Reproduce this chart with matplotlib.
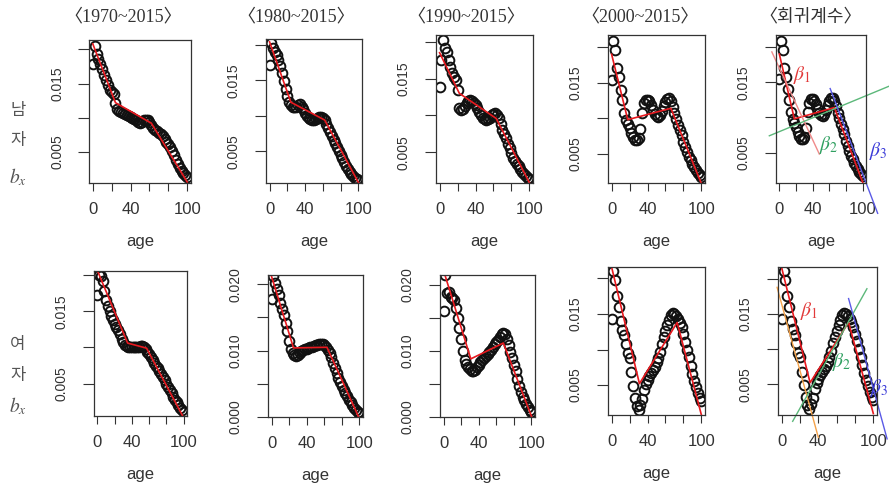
import numpy as np
import matplotlib.pyplot as plt

plt.rcParams['font.family'] = ['Liberation Sans', 'DejaVu Sans']
plt.rcParams['mathtext.fontset'] = 'stix'

# ages 0..100, every second year
age = np.arange(0, 101, 2)

titles = ['〈1970~2015〉', '〈1980~2015〉', '〈1990~2015〉', '〈2000~2015〉', '〈회귀계수〉']

# b_x estimates, male
male_1970 = [
    0.0178, 0.0205, 0.0193, 0.0186, 0.0179, 0.0171, 0.0163, 0.0155, 0.0148, 0.0141,
    0.0137, 0.0134, 0.0121, 0.0113, 0.0110, 0.0108, 0.0107, 0.0106, 0.0104, 0.0103,
    0.0101, 0.0100, 0.0098, 0.0096, 0.0094, 0.0093, 0.0094, 0.0096, 0.0097, 0.0097,
    0.0094, 0.0090, 0.0085, 0.0082, 0.0080, 0.0078, 0.0076, 0.0073, 0.0069, 0.0065,
    0.0061, 0.0057, 0.0051, 0.0045, 0.0038, 0.0032, 0.0027, 0.0022, 0.0019, 0.0016,
    0.0014]
male_1980 = [
    0.0172, 0.0203, 0.0195, 0.0190, 0.0186, 0.0179, 0.0170, 0.0160, 0.0149, 0.0138,
    0.0128, 0.0120, 0.0115, 0.0113, 0.0112, 0.0113, 0.0115, 0.0116, 0.0113, 0.0109,
    0.0104, 0.0100, 0.0097, 0.0095, 0.0094, 0.0094, 0.0095, 0.0097, 0.0098, 0.0098,
    0.0097, 0.0094, 0.0089, 0.0083, 0.0077, 0.0071, 0.0066, 0.0061, 0.0056, 0.0050,
    0.0045, 0.0040, 0.0035, 0.0030, 0.0025, 0.0021, 0.0018, 0.0015, 0.0013, 0.0011,
    0.0010]
male_1990 = [
    0.0139, 0.0175, 0.0202, 0.0192, 0.0186, 0.0175, 0.0165, 0.0157, 0.0152, 0.0148,
    0.0135, 0.0110, 0.0107, 0.0109, 0.0113, 0.0117, 0.0120, 0.0121, 0.0120, 0.0117,
    0.0114, 0.0110, 0.0105, 0.0101, 0.0097, 0.0095, 0.0094, 0.0095, 0.0097, 0.0100,
    0.0102, 0.0103, 0.0101, 0.0096, 0.0089, 0.0081, 0.0075, 0.0069, 0.0062, 0.0056,
    0.0049, 0.0043, 0.0038, 0.0034, 0.0031, 0.0027, 0.0024, 0.0021, 0.0018, 0.0016,
    0.0014]
male_2000 = [
    0.0154, 0.0208, 0.0196, 0.0170, 0.0158, 0.0140, 0.0125, 0.0108, 0.0098, 0.0092,
    0.0086, 0.0079, 0.0073, 0.0070, 0.0069, 0.0072, 0.0085, 0.0108, 0.0121, 0.0126,
    0.0126, 0.0124, 0.0119, 0.0112, 0.0106, 0.0103, 0.0102, 0.0105, 0.0110, 0.0117,
    0.0123, 0.0127, 0.0128, 0.0124, 0.0116, 0.0107, 0.0099, 0.0091, 0.0084, 0.0076,
    0.0067, 0.0059, 0.0052, 0.0046, 0.0041, 0.0036, 0.0031, 0.0027, 0.0023, 0.0020,
    0.0017]

# b_x estimates, female
female_1970 = [
    0.0172, 0.0200, 0.0198, 0.0192, 0.0178, 0.0166, 0.0157, 0.0150, 0.0144, 0.0138,
    0.0133, 0.0128, 0.0124, 0.0118, 0.0112, 0.0107, 0.0104, 0.0102, 0.0101, 0.0100,
    0.0100, 0.0100, 0.0100, 0.0101, 0.0101, 0.0102, 0.0102, 0.0101, 0.0098, 0.0094,
    0.0091, 0.0087, 0.0083, 0.0079, 0.0075, 0.0071, 0.0067, 0.0063, 0.0059, 0.0055,
    0.0050, 0.0046, 0.0041, 0.0037, 0.0032, 0.0028, 0.0024, 0.0020, 0.0016, 0.0013,
    0.0011]
female_1980 = [
    0.0178, 0.0213, 0.0202, 0.0193, 0.0184, 0.0172, 0.0162, 0.0153, 0.0142, 0.0130,
    0.0114, 0.0102, 0.0096, 0.0093, 0.0092, 0.0094, 0.0097, 0.0099, 0.0101, 0.0102,
    0.0103, 0.0104, 0.0105, 0.0106, 0.0107, 0.0108, 0.0109, 0.0110, 0.0110, 0.0110,
    0.0108, 0.0105, 0.0101, 0.0096, 0.0090, 0.0082, 0.0074, 0.0066, 0.0059, 0.0052,
    0.0046, 0.0041, 0.0036, 0.0031, 0.0026, 0.0022, 0.0018, 0.0014, 0.0011, 0.0008,
    0.0006]
female_1990 = [
    0.0160, 0.0215, 0.0188, 0.0190, 0.0182, 0.0180, 0.0177, 0.0165, 0.0150, 0.0135,
    0.0118, 0.0100, 0.0087, 0.0081, 0.0076, 0.0072, 0.0069, 0.0069, 0.0071, 0.0075,
    0.0079, 0.0083, 0.0087, 0.0090, 0.0093, 0.0096, 0.0099, 0.0102, 0.0106, 0.0110,
    0.0114, 0.0117, 0.0121, 0.0125, 0.0127, 0.0125, 0.0118, 0.0109, 0.0099, 0.0089,
    0.0079, 0.0069, 0.0058, 0.0047, 0.0038, 0.0031, 0.0025, 0.0020, 0.0015, 0.0011,
    0.0008]
female_2000 = [
    0.0143, 0.0211, 0.0198, 0.0175, 0.0160, 0.0140, 0.0128, 0.0120, 0.0108, 0.0095,
    0.0088, 0.0068, 0.0049, 0.0032, 0.0020, 0.0015, 0.0022, 0.0030, 0.0043, 0.0052,
    0.0057, 0.0063, 0.0067, 0.0071, 0.0076, 0.0082, 0.0088, 0.0097, 0.0108, 0.0117,
    0.0126, 0.0134, 0.0142, 0.0149, 0.0152, 0.0150, 0.0147, 0.0143, 0.0138, 0.0132,
    0.0122, 0.0111, 0.0100, 0.0089, 0.0077, 0.0066, 0.0056, 0.0047, 0.0039, 0.0032,
    0.0027]

# piecewise linear fits (red lines)
fit_age_m = [[0, 24, 62, 100], [0, 24, 62, 100], [0, 22, 63, 100], [0, 18, 66, 100]]
fit_val_m = [[0.0208, 0.0122, 0.0092, 0.0006],
             [0.0204, 0.0119, 0.0094, 0.0006],
             [0.0185, 0.0130, 0.0096, 0.0009],
             [0.0190, 0.0098, 0.0114, 0.0008]]
fit_age_f = [[0, 35, 57, 100], [0, 25, 63, 100], [0, 31, 68, 100], [0, 31, 73, 100]]
fit_val_f = [[0.0206, 0.0106, 0.0099, 0.0003],
             [0.0212, 0.0104, 0.0105, -0.0003],
             [0.0222, 0.0088, 0.0112, 0.0001],
             [0.0216, 0.0052, 0.0138, 0.0008]]

# regression coefficient lines for 2000~2015 (beta1, beta2, beta3)
beta_age_m = [[-9, 48], [-12, 133], [61, 118]]
beta_val_m = [[0.0193, 0.0048], [0.0074, 0.0145], [0.0141, -0.0036]]
beta_age_f = [[-5, 40], [12, 93], [73, 115]]
beta_val_f = [[0.0188, -0.0026], [-0.0003, 0.0186], [0.0172, -0.0028]]

W, H = 889, 494
fig = plt.figure(figsize=(W / 100, H / 100), dpi=100)


def px_axes(l, t, r, b):
    return fig.add_axes([l / W, 1 - b / H, (r - l) / W, (b - t) / H])


def draw_panel(ax, vals, fx, fy, ylim, yticks, ylabels):
    ax.plot(age, vals, 'o', ms=7, mfc='none', mec='#111111', mew=1.4)
    ax.plot(fx, fy, color='#e8191f', lw=1.2)
    ax.set_xlim(-4, 104)
    ax.set_ylim(*ylim)
    ax.set_xticks(range(0, 101, 20))
    ax.set_xticklabels(['0', '', '40', '', '', '100'])
    ax.set_yticks(yticks)
    ax.set_yticklabels(ylabels, rotation=90, va='center')
    ax.tick_params(axis='x', length=6, width=0.8, pad=8, labelsize=12, colors='#333')
    ax.tick_params(axis='y', length=8, width=0.8, pad=10, labelsize=10, colors='#333')
    for s in ax.spines.values():
        s.set_linewidth(0.9)
        s.set_color('#333')
    ax.set_xlabel('age', fontsize=12, labelpad=12, color='#333')


male = [male_1970, male_1980, male_1990, male_2000, male_2000]
female = [female_1970, female_1980, female_1990, female_2000, female_2000]

top_boxes = [(89, 40, 191, 183), (266, 39, 362, 183), (436, 35, 533, 183),
             (608, 35, 705, 183), (776, 35, 866, 183)]
bot_boxes = [(94, 271, 187, 416), (268, 275, 363, 417), (440, 275, 535, 417),
             (608, 267, 705, 415), (778, 267, 877, 415)]
top_ylim = [(0.00046, 0.02136), (0.00054, 0.0208), (0.00086, 0.0209),
            (0.0009, 0.0217), (0.0007, 0.0217)]
bot_ylim = [(0.00053, 0.02055), (-0.00002, 0.0214), (0.0, 0.0215),
            (0.0008, 0.0216), (0.0006, 0.0217)]

t4 = [0.005, 0.010, 0.015, 0.020]
l4 = ['0.005', '', '0.015', '']
t5 = [0.0, 0.005, 0.010, 0.015, 0.020]
l5 = ['0.000', '', '0.010', '', '0.020']

top_axes = []
bot_axes = []
for i in range(5):
    k = min(i, 3)
    ax = px_axes(*top_boxes[i])
    draw_panel(ax, male[i], fit_age_m[k], fit_val_m[k], top_ylim[i], t4, l4)
    top_axes.append(ax)
    ax = px_axes(*bot_boxes[i])
    if i in (1, 2):
        draw_panel(ax, female[i], fit_age_f[k], fit_val_f[k], bot_ylim[i], t5, l5)
    else:
        draw_panel(ax, female[i], fit_age_f[k], fit_val_f[k], bot_ylim[i], t4, l4)
    bot_axes.append(ax)

# beta lines in the last column, drawn past the frame
colors_m = ['#f08a8a', '#5cb87a', '#5a5ae6']
colors_f = ['#f5a34a', '#5cb87a', '#5a5ae6']
for j in range(3):
    top_axes[4].plot(beta_age_m[j], beta_val_m[j], color=colors_m[j], lw=1.0, clip_on=False)
    bot_axes[4].plot(beta_age_f[j], beta_val_f[j], color=colors_f[j], lw=1.0, clip_on=False)

beta_lab = [r'$\beta_1$', r'$\beta_2$', r'$\beta_3$']
beta_col = ['#e23a3a', '#2fa060', '#3a3ad8']
top_pos = [(802, 75), (829, 145), (878, 151)]
bot_pos = [(809, 311), (842, 362), (879, 388)]
for j in range(3):
    fig.text(top_pos[j][0] / W, 1 - top_pos[j][1] / H, beta_lab[j], color=beta_col[j],
             fontsize=14, ha='center', va='center')
    fig.text(bot_pos[j][0] / W, 1 - bot_pos[j][1] / H, beta_lab[j], color=beta_col[j],
             fontsize=14, ha='center', va='center')

# column titles
title_x = [123, 296, 466, 640, 811]
for j in range(5):
    fig.text(title_x[j] / W, 1 - 17 / H, titles[j], ha='center', va='center',
             fontsize=13, color='#333', family=['Liberation Serif', 'Noto Sans CJK KR'])

# row labels
for txt, y in [('남', 110), ('자', 141), ('여', 345), ('자', 375)]:
    fig.text(18 / W, 1 - y / H, txt, ha='center', va='center', fontsize=12,
             color='#555', family=['Noto Sans CJK KR', 'DejaVu Sans'])
for y in [177, 406]:
    fig.text(18 / W, 1 - y / H, r'$b_x$', ha='center', va='center', fontsize=14, color='#555')

fig.savefig('out.png', dpi=100)
